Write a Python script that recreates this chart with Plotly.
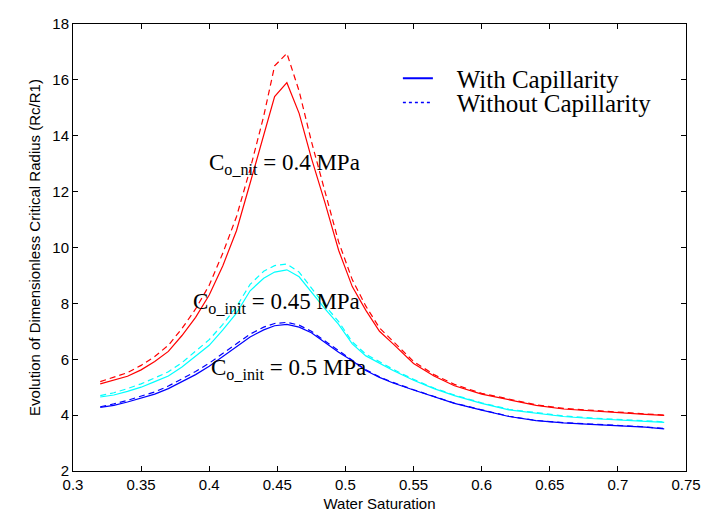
import plotly.graph_objects as go

# Water saturation grid
sw = [0.32, 0.33, 0.34, 0.35, 0.36, 0.37, 0.38, 0.39, 0.40, 0.41, 0.42, 0.43, 0.44, 0.448,
      0.457, 0.466, 0.475, 0.485, 0.495, 0.505, 0.515, 0.525, 0.535, 0.55, 0.565, 0.58,
      0.60, 0.62, 0.64, 0.66, 0.68, 0.70, 0.72, 0.734]

# Co_init = 0.4 MPa (red)
red_with = [5.12, 5.25, 5.39, 5.62, 5.92, 6.28, 6.85, 7.5, 8.3, 9.35, 10.6, 12.3, 14.0, 15.4,
            15.9, 14.8, 13.2, 11.6, 9.9, 8.6, 7.75, 7.0, 6.55, 5.85, 5.4, 5.05,
            4.75, 4.55, 4.35, 4.22, 4.15, 4.1, 4.03, 3.99]
red_without = [5.2, 5.35, 5.52, 5.78, 6.1, 6.5, 7.1, 7.8, 8.65, 9.8, 11.1, 12.8, 14.7, 16.5,
               16.95, 15.6, 13.8, 12.0, 10.2, 8.85, 7.9, 7.12, 6.65, 5.92, 5.45, 5.1,
               4.78, 4.57, 4.37, 4.24, 4.17, 4.12, 4.05, 4.0]

# Co_init = 0.45 MPa (cyan)
cyan_with = [4.65, 4.72, 4.85, 5.0, 5.2, 5.4, 5.72, 6.1, 6.5, 7.05, 7.65, 8.45, 8.9, 9.12,
             9.2, 8.95, 8.4, 7.8, 7.25, 6.55, 6.12, 5.85, 5.6, 5.25, 4.95, 4.7,
             4.42, 4.19, 4.06, 3.95, 3.88, 3.83, 3.78, 3.74]
cyan_without = [4.7, 4.8, 4.95, 5.12, 5.33, 5.55, 5.88, 6.28, 6.7, 7.25, 7.88, 8.68, 9.15, 9.35,
                9.41, 9.12, 8.55, 7.92, 7.35, 6.62, 6.18, 5.9, 5.64, 5.28, 4.97, 4.72,
                4.44, 4.21, 4.08, 3.97, 3.9, 3.85, 3.8, 3.76]

# Co_init = 0.5 MPa (blue)
blue_with = [4.28, 4.35, 4.47, 4.6, 4.75, 4.95, 5.2, 5.45, 5.75, 6.1, 6.45, 6.8, 7.05, 7.2,
             7.25, 7.15, 6.95, 6.6, 6.25, 5.95, 5.6, 5.35, 5.15, 4.9, 4.65, 4.42,
             4.18, 3.95, 3.8, 3.72, 3.67, 3.63, 3.57, 3.51]
blue_without = [4.3, 4.4, 4.53, 4.67, 4.83, 5.04, 5.3, 5.56, 5.86, 6.2, 6.55, 6.9, 7.15, 7.28,
                7.32, 7.22, 7.0, 6.65, 6.3, 5.98, 5.62, 5.37, 5.17, 4.91, 4.66, 4.43,
                4.19, 3.96, 3.81, 3.73, 3.68, 3.64, 3.58, 3.52]

x_ticks = [0.3, 0.35, 0.4, 0.45, 0.5, 0.55, 0.6, 0.65, 0.7, 0.75]
y_ticks = [2, 4, 6, 8, 10, 12, 14, 16, 18]

legend_labels = ["With Capillarity", "Without Capillarity"]
annot_labels = ["C<sub>o_nit</sub> = 0.4 MPa", "C<sub>o_init</sub> = 0.45 MPa", "C<sub>o_init</sub> = 0.5 MPa"]
annot_x = [0.4555, 0.4495, 0.4585]
annot_y = [13.0, 8.0, 5.65]

RED = "rgb(255,0,0)"
CYAN = "rgb(0,255,255)"
BLUE = "rgb(0,0,255)"

fig = go.Figure()

series = [
    (blue_with, BLUE, "solid"), (blue_without, BLUE, "dash"),
    (cyan_with, CYAN, "solid"), (cyan_without, CYAN, "dash"),
    (red_with, RED, "solid"), (red_without, RED, "dash"),
]
for ys, col, dash in series:
    fig.add_trace(go.Scatter(x=sw, y=ys, mode="lines", showlegend=False,
                             line=dict(color=col, width=1.2, dash=dash if dash == "solid" else "6px,4px")))

# legend entries
pad = "\u00a0\u00a0\u00a0"
fig.add_trace(go.Scatter(x=[None], y=[None], mode="lines", name=pad + legend_labels[0],
                         line=dict(color=BLUE, width=2), legend="legend"))
fig.add_trace(go.Scatter(x=[None], y=[None], mode="lines", name=pad + legend_labels[1],
                         line=dict(color=BLUE, width=1.5, dash="dot"), legend="legend2"))

for t, ax, ay in zip(annot_labels, annot_x, annot_y):
    fig.add_annotation(x=ax, y=ay, xref="x", yref="y", text=t, showarrow=False,
                       font=dict(family="Liberation Serif, Times New Roman, serif", size=23, color="black"))

legfont = dict(family="Liberation Serif, Times New Roman, serif", size=25, color="black")
fig.update_layout(
    width=714, height=512,
    margin=dict(l=65, r=36, t=16, b=49),
    paper_bgcolor="white", plot_bgcolor="white",
    legend=dict(x=0.53, y=0.878, xanchor="left", yanchor="middle", font=legfont,
                bgcolor="rgba(0,0,0,0)", itemwidth=30),
    legend2=dict(x=0.53, y=0.824, xanchor="left", yanchor="middle", font=legfont,
                 bgcolor="rgba(0,0,0,0)", itemwidth=30),
    font=dict(family="Liberation Sans, Arial, sans-serif", size=15, color="black"),
)
fig.update_xaxes(range=[0.3, 0.75], tickvals=x_ticks, ticktext=[f"{v:g}" for v in x_ticks],
                 ticks="inside", ticklen=5, tickcolor="black", showgrid=False, zeroline=False,
                 showline=True, linecolor="black", linewidth=1, mirror="ticks", automargin=False,
                 title=dict(text="Water Saturation", font=dict(size=15), standoff=6))
fig.update_yaxes(range=[2, 18], tickvals=y_ticks, ticktext=[str(v) for v in y_ticks],
                 ticks="inside", ticklen=5, tickcolor="black", showgrid=False, zeroline=False,
                 showline=True, linecolor="black", linewidth=1, mirror="ticks", automargin=False,
                 title=dict(text="Evolution of Dimensionless Critical Radius (Rc/R1)", font=dict(size=15), standoff=8))

fig.write_html("out.html")
